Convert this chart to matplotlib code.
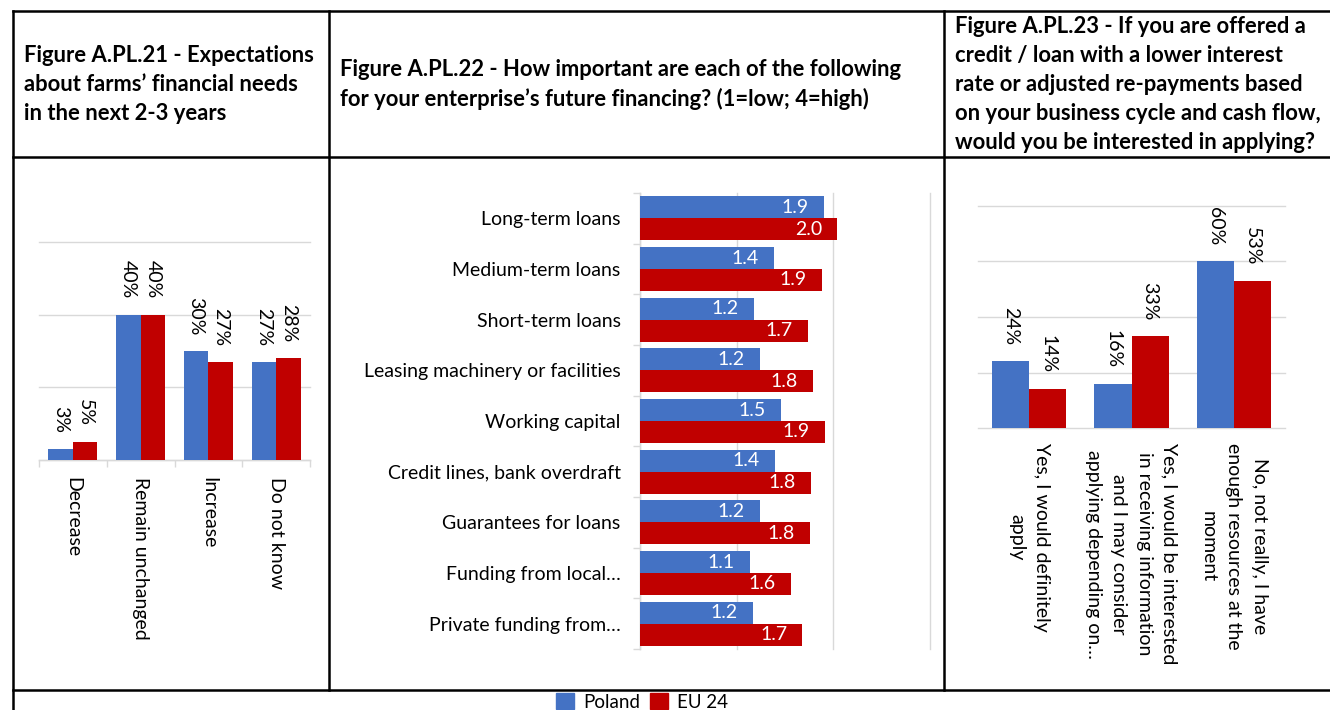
import matplotlib

matplotlib.use("Agg")
import matplotlib.pyplot as plt
from matplotlib.lines import Line2D
from matplotlib.patches import Patch

# ---- data ----
needs_cats = ["Decrease", "Remain unchanged", "Increase", "Do not know"]
needs_poland = [3, 40, 30, 27]
needs_eu = [5, 40, 27, 28]

fin_cats = [
    "Long-term loans",
    "Medium-term loans",
    "Short-term loans",
    "Leasing machinery or facilities",
    "Working capital",
    "Credit lines, bank overdraft",
    "Guarantees for loans",
    "Funding from local…",
    "Private funding from…",
]
fin_poland = [1.90, 1.39, 1.18, 1.24, 1.46, 1.40, 1.24, 1.14, 1.17]
fin_eu = [2.04, 1.88, 1.74, 1.79, 1.91, 1.77, 1.76, 1.56, 1.68]

loan_cats = [
    "Yes, I would definitely\napply",
    "Yes, I would be interested\nin receiving information\nand I may consider\napplying depending on…",
    "No, not really, I have\nenough resources at the\nmoment",
]
loan_poland = [24, 16, 60]
loan_eu = [14, 33, 53]

titles = [
    ["Figure A.PL.21 - Expectations", "about farms’ financial needs", "in the next 2-3 years"],
    ["Figure A.PL.22 - How important are each of the following",
     "for your enterprise’s future financing? (1=low; 4=high)"],
    ["Figure A.PL.23 - If you are offered a", "credit / loan with a lower interest",
     "rate or adjusted re-payments based", "on your business cycle and cash flow,",
     "would you be interested in applying?"],
]
series_names = ["Poland", "EU 24"]

# ---- style ----
BLUE = "#4472C4"
RED = "#C00000"
GRID = "#d9d9d9"
FONT = "Lato"
FS = 14
FS_TITLE = 15.8
plt.rcParams["font.family"] = [FONT, "DejaVu Sans"]

W, H = 1330, 710
fig = plt.figure(figsize=(W / 100, H / 100), dpi=100)
fig.patch.set_facecolor("white")


def rect(x0, y0, x1, y1):
    return [x0 / W, 1 - y1 / H, (x1 - x0) / W, (y1 - y0) / H]


def hline(x0, x1, y):
    fig.add_artist(Line2D([x0 / W, x1 / W], [1 - y / H, 1 - y / H],
                          transform=fig.transFigure, color="black", lw=1.8))


def vline(x, y0, y1):
    fig.add_artist(Line2D([x / W, x / W], [1 - y0 / H, 1 - y1 / H],
                          transform=fig.transFigure, color="black", lw=1.8))


# table frame
hline(13, W, 11)
hline(13, W, 157)
hline(13, W, 690)
vline(13, 11, H)
vline(329, 11, 690)
vline(944, 11, 690)

# header texts, centered vertically in the header row
for x0, lines in zip([24, 340, 955], titles):
    pitch = 29
    yc = 84.5
    start = yc - pitch * (len(lines) - 1) / 2
    for k, line in enumerate(lines):
        fig.text(x0 / W, 1 - (start + k * pitch) / H, line, ha="left", va="center",
                 fontsize=FS_TITLE, fontweight="bold", color="black")


def vertical_bars(ax, cats, pol, eu, ymax, label_pad, boundary_ticks):
    n = len(cats)
    w = 0.362
    xs = range(n)
    ax.bar([x - w / 2 for x in xs], pol, w, color=BLUE, zorder=3)
    ax.bar([x + w / 2 for x in xs], eu, w, color=RED, zorder=3)
    for x, p, e in zip(xs, pol, eu):
        for xx, v in ((x - w / 2, p), (x + w / 2, e)):
            ax.annotate(f"{v}%", xy=(xx, v), xytext=(0, 11.5), textcoords="offset points",
                        rotation=-90, ha="center", va="bottom", fontsize=FS, color="black")
    ax.set_xlim(-0.5, n - 0.5)
    ax.set_ylim(0, ymax)
    ax.set_yticks(range(0, ymax + 1, 20))
    ax.set_yticklabels([])
    ax.tick_params(axis="y", length=0)
    ax.yaxis.grid(True, color=GRID, linewidth=1.0)
    for gl in ax.get_ygridlines():
        gl.set_clip_on(False)
    ax.set_axisbelow(True)
    for s in ("top", "right", "left"):
        ax.spines[s].set_visible(False)
    if boundary_ticks:
        ax.spines["bottom"].set_color(GRID)
        ax.spines["bottom"].set_linewidth(1.0)
        ax.set_xticks([i - 0.5 for i in range(n + 1)], minor=True)
        ax.tick_params(axis="x", which="minor", length=5, color=GRID, width=1.0)
    else:
        ax.spines["bottom"].set_visible(False)
    ax.set_xticks(list(xs))
    ax.set_xticklabels(cats, rotation=-90, fontsize=FS, ha="center", va="top",
                       multialignment="center", linespacing=1.6)
    ax.tick_params(axis="x", which="major", length=0, pad=label_pad)


# Figure A.PL.21
ax1 = fig.add_axes(rect(39, 242, 310, 460))
vertical_bars(ax1, needs_cats, needs_poland, needs_eu, 60, 12, True)

# Figure A.PL.23
ax3 = fig.add_axes(rect(978, 206, 1285, 428))
vertical_bars(ax3, loan_cats, loan_poland, loan_eu, 80, 11, False)

# Figure A.PL.22 (horizontal bars)
ax2 = fig.add_axes(rect(640, 193, 930, 649))
h = 0.434
ys = range(len(fin_cats))
ax2.barh([y - h / 2 for y in ys], fin_poland, h, color=BLUE, zorder=3)
ax2.barh([y + h / 2 for y in ys], fin_eu, h, color=RED, zorder=3)
for y, p, e in zip(ys, fin_poland, fin_eu):
    for yy, v in ((y - h / 2, p), (y + h / 2, e)):
        ax2.annotate(f"{v:.1f}", xy=(v, yy), xytext=(-11, 0), textcoords="offset points",
                     ha="right", va="center", fontsize=FS, color="white", zorder=4)
ax2.set_xlim(0, 3)
ax2.set_ylim(len(fin_cats) - 0.5, -0.5)
ax2.set_xticks([0, 1, 2, 3])
ax2.set_xticklabels([])
ax2.tick_params(axis="x", length=0)
ax2.xaxis.grid(True, color=GRID, linewidth=1.0)
for gl in ax2.get_xgridlines():
    gl.set_clip_on(False)
ax2.set_axisbelow(True)
for s in ("top", "right", "bottom"):
    ax2.spines[s].set_visible(False)
ax2.spines["left"].set_color(GRID)
ax2.spines["left"].set_linewidth(1.0)
ax2.set_yticks([i - 0.5 for i in range(len(fin_cats) + 1)], minor=True)
ax2.tick_params(axis="y", which="minor", length=5, color=GRID, width=1.0)
ax2.set_yticks(list(ys))
ax2.set_yticklabels(fin_cats, fontsize=FS)
ax2.tick_params(axis="y", which="major", length=0, pad=14)

# legend
handles = [Patch(color=BLUE, label=series_names[0]), Patch(color=RED, label=series_names[1])]
fig.legend(handles=handles, loc="center", bbox_to_anchor=(642 / W, 1 - 702 / H), ncol=2,
           frameon=False, fontsize=13.5, handlelength=0.95, handleheight=0.95,
           handletextpad=0.5, columnspacing=0.5, borderpad=0)

fig.savefig("out.png", dpi=100, facecolor="white")
